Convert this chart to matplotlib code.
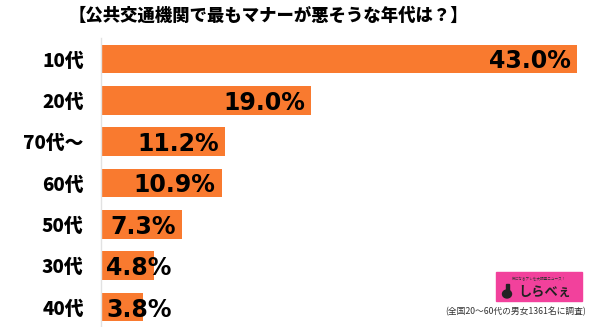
import matplotlib.pyplot as plt
from matplotlib.patches import Rectangle, Ellipse

plt.rcParams['font.family'] = ['Noto Sans CJK JP', 'DejaVu Sans']

title = "【公共交通機関で最もマナーが悪そうな年代は？】"
categories = ["10代", "20代", "70代〜", "60代", "50代", "30代", "40代"]
values = [43.0, 19.0, 11.2, 10.9, 7.3, 4.8, 3.8]
note = "(全国20〜60代の男女1361名に調査)"

W, H = 600, 327
bar_color = "#F97A2F"

fig = plt.figure(figsize=(W / 100, H / 100), dpi=100)

# axes placed in pixel terms: left edge at x=101, rows centred from y=59 to y=307
left, right = 101, 590
top, bottom = 38.3, 327.7
ax = fig.add_axes([left / W, 1 - bottom / H, (right - left) / W, (bottom - top) / H])

pos = range(len(categories))
ax.barh(pos, values, height=0.70, color=bar_color, zorder=2)

xmax = 43.0 * (right - left) / (577 - left)
ax.set_xlim(0, xmax)
ax.set_ylim(len(categories) - 0.5, -0.5)

ax.set_xticks([])
ax.set_yticks(list(pos))
ax.set_yticklabels(categories, fontsize=13.5, fontweight='black')
ax.tick_params(axis='y', length=0, pad=12.5)
for s in ['top', 'right', 'bottom']:
    ax.spines[s].set_visible(False)
ax.spines['left'].set_color('#e2e2e2')
ax.spines['left'].set_linewidth(1)

# value labels: right-aligned inside the bar, shifted to start at x=106 when too long
px_per_unit = (right - left) / xmax
renderer = fig.canvas.get_renderer()
for i, v in enumerate(values):
    t = ax.text(v - 6 / px_per_unit, i, f"{v:.1f}%", ha='right',
                va='center_baseline', fontsize=17, fontweight='bold',
                family='DejaVu Sans', color='black', zorder=3)
    bb = t.get_window_extent(renderer)
    if bb.x0 < 106:
        t.set_ha('left')
        t.set_x(5 / px_per_unit)

fig.text(268 / W, 1 - 16 / H, title, ha='center', va='center',
         fontsize=12.5, fontweight='black')

# logo box
fig.patches.append(Rectangle((496 / W, 1 - 301 / H), 86 / W, 29 / H,
                             transform=fig.transFigure, color='#F2419C',
                             zorder=5))
fig.text(539 / W, 1 - 279 / H, "気になるアレを大調査ニュース！", ha='center',
         va='center', fontsize=2.6, color='#333333', zorder=6)
# small bottle-shaped mark
fig.patches.append(Ellipse((507 / W, 1 - 294 / H), 9 / W, 8 / H,
                           transform=fig.transFigure, color='#222222', zorder=6))
fig.patches.append(Rectangle((505.5 / W, 1 - 293 / H), 3 / W, 9 / H,
                             transform=fig.transFigure, color='#222222', zorder=6))
fig.text(545 / W, 1 - 292 / H, "しらべぇ", ha='center', va='center',
         fontsize=9.5, fontweight='bold', color='#222222', zorder=6)

fig.text(516 / W, 1 - 312 / H, note, ha='center', va='center',
         fontsize=6.3, color='#333333')

fig.savefig("out.png", dpi=100, facecolor='white')
